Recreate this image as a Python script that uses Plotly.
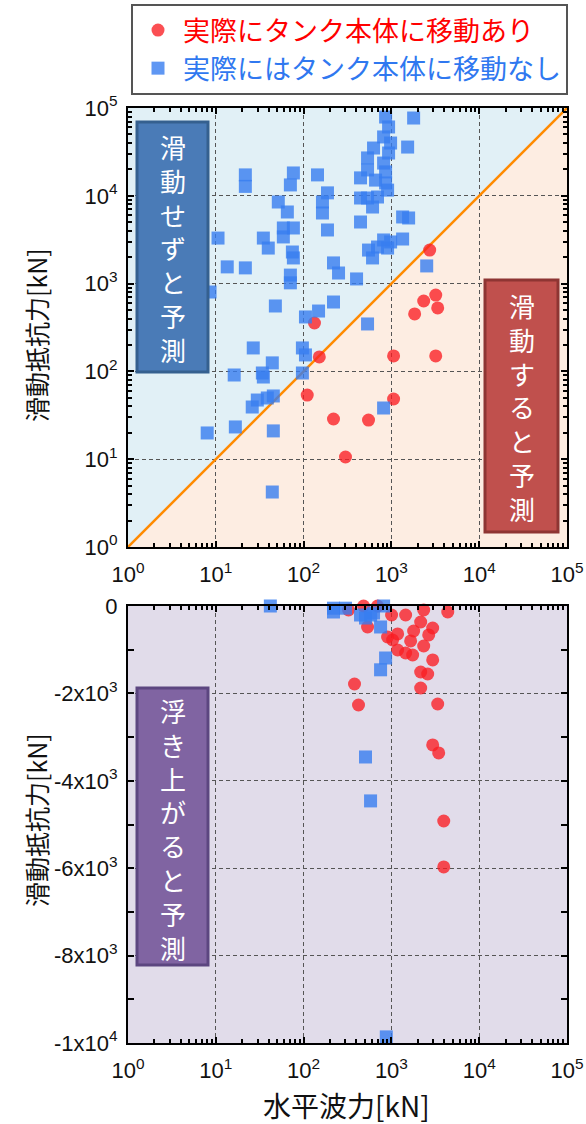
import plotly.graph_objects as go

W, H = 586, 1124

# ---------------- data ----------------
# top panel: horizontal wave force [kN] vs sliding resistance [kN]
top_moved_x = [133, 151, 110, 219, 300, 549, 1059, 1059, 3198, 2729, 2333, 3198, 3367, 1840]
top_moved_y = [356, 146, 53.8, 28.7, 10.6, 27.9, 48.5, 150, 150, 2410, 634, 741, 528, 451]

top_still_x = [21.7, 21.7, 76.5, 70.7, 144, 51.5, 65.3, 58.8, 76.5, 58.8,
               10.6, 34.8, 39.6, 74.5, 76.5, 13.5, 21.7, 70.7, 70.7, 8.6,
               47.7, 187, 164, 164, 187, 219, 250, 401, 105, 148,
               219, 445, 445, 26.7, 96.9, 105, 44, 16.2, 33.9, 34.8,
               96.9, 45.2, 38.6, 29.7, 26, 16.7, 7.98, 45.2, 44, 859,
               929, 815, 979, 626, 929, 535, 815, 535, 859, 445,
               660, 859, 905, 535, 610, 695, 1792, 1531, 1342, 1571,
               1342, 815, 979, 905, 549, 610, 695, 535, 2524, 815]
top_still_y = [17300, 12800, 18200, 13300, 17300, 8500, 6540, 4300, 4300, 3400,
               3300, 3300, 2540, 2290, 1960, 1550, 1510, 1250, 1020, 802,
               556, 10800, 8500, 6370, 4080, 1720, 1320, 1130, 417, 487,
               617, 9440, 5030, 185, 185, 154, 125, 91, 95.9, 86.3,
               95.9, 52.5, 49.8, 47.2, 39.3, 23.3, 19.9, 21, 4.23, 78900,
               60800, 46800, 39900, 35000, 30700, 27000, 23600, 19700, 18700, 16000,
               15100, 14000, 11600, 9440, 7450, 9690, 76900, 35900, 5740, 5590,
               3220, 3140, 2980, 2540, 2410, 1960, 2610, 347, 1590, 38.3]

# bottom panel: horizontal wave force [kN] vs (negative) sliding resistance [kN]
bot_moved_x = [482, 695, 325, 535, 1005, 1452, 2333, 4385, 2155, 1792,
               2952, 1178, 905, 1032, 1656, 2659, 2333, 1178, 1452, 1746,
               2952, 2155, 2590, 2155, 380, 422, 3367, 2952, 3456, 3945, 3945]
bot_moved_y = [0, 0, -92, -480, -206, -206, -92, -137, -366, -572,
               -503, -640, -709, -778, -800, -663, -915, -1007, -1075, -1121,
               -1235, -1510, -1556, -1876, -1785, -2265, -2242, -3180, -3363, -4920, -5970]

bot_still_x = [41.8, 219, 300, 219, 445, 580, 626, 507, 815, 753, 859, 753, 507, 579, 875]
bot_still_y = [0, -50, -50, -137, -206, -206, -160, -275, 0, -480, -1190, -1460, -3455, -4460, -9860]

diag = [1, 1e5]

log_tickvals = [1, 10, 100, 1000, 10000, 100000]
log_ticktext = ["10<sup>0</sup>", "10<sup>1</sup>", "10<sup>2</sup>",
                "10<sup>3</sup>", "10<sup>4</sup>", "10<sup>5</sup>"]
lin_tickvals = [0, -2000, -4000, -6000, -8000, -10000]
lin_ticktext = ["0", "-2x10<sup>3</sup>", "-4x10<sup>3</sup>", "-6x10<sup>3</sup>",
                "-8x10<sup>3</sup>", "-1x10<sup>4</sup>"]

legend_moved = "実際にタンク本体に移動あり"
legend_still = "実際にはタンク本体に移動なし"
y_title = "滑動抵抗力[kN]"
x_title = "水平波力[kN]"
box_texts = ["滑動せずと予測", "滑動すると予測", "浮き上がると予測"]

# ---------------- styling ----------------
RED = "rgba(250,30,35,0.78)"
BLUE = "rgba(55,125,240,0.80)"
TICKFONT = dict(family="Liberation Sans, Arial, sans-serif", size=22, color="#111")
JPFONT = "Noto Sans CJK JP"

def px2x(px):
    return px / W

def px2y(py):
    return 1 - py / H

# plot areas in pixels
L, R = 128, 567
T1, B1 = 108, 547
T2, B2 = 606, 1043

fig = go.Figure()

# diagonal
fig.add_trace(go.Scatter(x=diag, y=diag, mode="lines", line=dict(color="#FF8A00", width=2.5),
                         showlegend=False, hoverinfo="skip", xaxis="x", yaxis="y"))
fig.add_trace(go.Scatter(x=top_moved_x, y=top_moved_y, mode="markers",
                         marker=dict(symbol="circle", size=13, color=RED),
                         name=f'<span style="color:#FF0000">{legend_moved}</span>',
                         xaxis="x", yaxis="y"))
fig.add_trace(go.Scatter(x=top_still_x, y=top_still_y, mode="markers",
                         marker=dict(symbol="square", size=13, color=BLUE),
                         name=f'<span style="color:#2F78F0">{legend_still}</span>',
                         xaxis="x", yaxis="y"))
fig.add_trace(go.Scatter(x=bot_moved_x, y=bot_moved_y, mode="markers", cliponaxis=False,
                         marker=dict(symbol="circle", size=13, color=RED),
                         showlegend=False, xaxis="x2", yaxis="y2"))
fig.add_trace(go.Scatter(x=bot_still_x, y=bot_still_y, mode="markers", cliponaxis=False,
                         marker=dict(symbol="square", size=13, color=BLUE),
                         showlegend=False, xaxis="x2", yaxis="y2"))

minor_log = [k * 10 ** n for n in range(5) for k in range(2, 10)]

common = dict(showline=True, linecolor="black", linewidth=2, mirror="allticks",
              ticks="inside", ticklen=6, tickwidth=1.5, tickcolor="black",
              showgrid=True, gridcolor="#555555", gridwidth=1, griddash="4px,3px",
              zeroline=False, tickfont=TICKFONT, automargin=False)
minor_log_spec = dict(tickmode="array", tickvals=minor_log, ticks="inside", ticklen=4,
                      tickcolor="black", showgrid=False)
xlog = dict(type="log", range=[0, 5], tickmode="array", tickvals=log_tickvals,
            ticktext=log_ticktext, minor=minor_log_spec, ticklabelstandoff=7, **common)
ylog = dict(type="log", range=[0, 5], tickmode="array", tickvals=log_tickvals,
            ticktext=log_ticktext, minor=minor_log_spec, ticklabelstandoff=4, **common)

fig.update_layout(
    width=W, height=H,
    margin=dict(l=0, r=0, t=0, b=0, pad=0, autoexpand=False),
    paper_bgcolor="white",
    plot_bgcolor="#E1DCEA",
    xaxis=dict(domain=[px2x(L), px2x(R)], anchor="y", **xlog),
    yaxis=dict(domain=[px2y(B1), px2y(T1)], anchor="x", **ylog),
    xaxis2=dict(domain=[px2x(L), px2x(R)], anchor="y2", **xlog),
    yaxis2=dict(domain=[px2y(B2), px2y(T2)], anchor="x2", range=[-10000, 0],
                tickmode="array", tickvals=lin_tickvals, ticktext=lin_ticktext,
                ticklabelstandoff=4,
                minor=dict(dtick=1000, ticks="inside", ticklen=6, tickcolor="black", showgrid=False),
                **common),
    legend=dict(x=px2x(131), y=px2y(4), xanchor="left", yanchor="top",
                bgcolor="white", bordercolor="#555", borderwidth=2,
                font=dict(family=JPFONT, size=27), tracegroupgap=0, itemwidth=40),
    showlegend=True,
)

# background triangles for top panel (below gridlines)
x0p, x1p = px2x(L), px2x(R)
y0p, y1p = px2y(B1), px2y(T1)
fig.add_shape(type="path", xref="paper", yref="paper", layer="below", line=dict(width=0),
              fillcolor="#E1F0F6", path=f"M {x0p},{y0p} L {x1p},{y1p} L {x0p},{y1p} Z")
fig.add_shape(type="path", xref="paper", yref="paper", layer="below", line=dict(width=0),
              fillcolor="#FDEDE2", path=f"M {x0p},{y0p} L {x1p},{y0p} L {x1p},{y1p} Z")

def label_box(x0, x1, y0, y1, fill, border, text, yc):
    fig.add_shape(type="rect", xref="paper", yref="paper", layer="above",
                  x0=px2x(x0), x1=px2x(x1), y0=px2y(y1), y1=px2y(y0),
                  fillcolor=fill, line=dict(color=border, width=3))
    fig.add_annotation(x=px2x((x0 + x1) / 2), y=px2y(yc), xref="paper", yref="paper",
                       text="<br>".join(text), showarrow=False, xanchor="center",
                       yanchor="middle", align="center",
                       font=dict(family=JPFONT, size=26, color="white"))

label_box(137, 208, 122, 372, "#4A7BB7", "#35608F", box_texts[0], 248)
label_box(485, 558, 280, 532, "#C0504D", "#8E3533", box_texts[1], 407)
label_box(137, 208, 688, 965, "#8064A2", "#5C4680", box_texts[2], 829)

# axis titles
for yc in (335, 820):
    fig.add_annotation(x=px2x(36), y=px2y(yc), xref="paper", yref="paper", text=y_title,
                       xanchor="center", yanchor="middle",
                       showarrow=False, textangle=-90, font=dict(family=JPFONT, size=25, color="#111"))
fig.add_annotation(x=px2x(346), y=px2y(1105), xref="paper", yref="paper", text=x_title,
                   xanchor="center", yanchor="middle",
                   showarrow=False, font=dict(family=JPFONT, size=28, color="#111"))

fig.write_html("out.html", config={"displayModeBar": False},
               post_script="document.body.style.margin='0';document.body.style.overflow='hidden';")
